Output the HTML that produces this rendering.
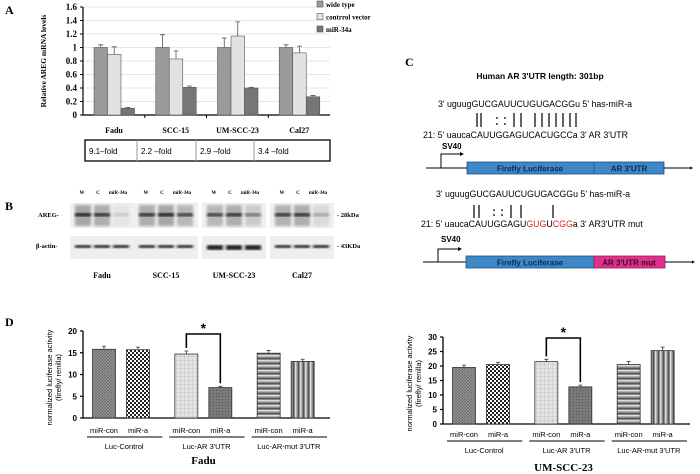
<!DOCTYPE html>
<html><head><meta charset="utf-8">
<style>
html,body{margin:0;padding:0;background:#fff;}
body{width:700px;height:474px;overflow:hidden;position:relative;font-family:"Liberation Sans",sans-serif;}
svg{position:absolute;left:0;top:0;}
.serif{font-family:"Liberation Serif",serif;font-weight:bold;}
.sans{font-family:"Liberation Sans",sans-serif;}
</style></head>
<body>
<svg id="fig" width="700" height="474" viewBox="0 0 700 474" xmlns="http://www.w3.org/2000/svg">
<defs>
<pattern id="pCross" width="3" height="3" patternUnits="userSpaceOnUse"><rect width="3" height="3" fill="#9a9a9a"/><path d="M0 0L3 3M3 0L0 3" stroke="#666" stroke-width="0.6"/></pattern>
<pattern id="pCheck" width="4" height="4" patternUnits="userSpaceOnUse"><rect width="4" height="4" fill="#fff"/><rect width="2" height="2" fill="#222"/><rect x="2" y="2" width="2" height="2" fill="#222"/></pattern>
<pattern id="pGrid" width="4" height="4" patternUnits="userSpaceOnUse"><rect width="4" height="4" fill="#e4e4e4"/><path d="M0 0H4M0 0V4" stroke="#bbb" stroke-width="0.8"/></pattern>
<pattern id="pDark" width="3" height="3" patternUnits="userSpaceOnUse"><rect width="3" height="3" fill="#7a7a7a"/><rect width="1" height="1" fill="#555"/></pattern>
<pattern id="pH" width="6" height="5" patternUnits="userSpaceOnUse"><rect width="6" height="5" fill="#888"/><rect y="0" width="6" height="1.5" fill="#ddd"/><rect y="3" width="6" height="1" fill="#555"/></pattern>
<pattern id="pV" width="5" height="6" patternUnits="userSpaceOnUse"><rect width="5" height="6" fill="#888"/><rect x="0" width="1.5" height="6" fill="#ddd"/><rect x="3" width="1" height="6" fill="#555"/></pattern>
<filter id="blur"><feGaussianBlur stdDeviation="1.2"/></filter>
</defs>
<g id="panelA"></g>
<g id="panelB"></g>
<g id="panelC">
<text x="405" y="66" class="serif" font-size="12">C</text>
<text x="540" y="79" text-anchor="middle" font-size="8.5" font-weight="bold">Human AR 3'UTR length: 301bp</text>
<text x="438" y="107" font-size="8.8">3' uguugGUCGAUUCUGUGACGGu 5' has-miR-a</text>
<g stroke="#000" stroke-width="1.2">
<path d="M477 113V127M481 113V127M497 117V119M497 123V125M505 117V119M505 123V125M514 113V127M521 113V127M535 113V127M542 113V127M549 113V127M556 113V127M563 113V127M570 113V127M576 113V127"/>
</g>
<text x="423" y="138" font-size="8.8">21:  5' uaucaCAUUGGAGUCACUGCCa 3' AR 3'UTR</text>
<text x="442" y="149" font-size="8" font-weight="bold">SV40</text>
<g>
<path d="M426 168H467M441 168V154H462" stroke="#000" stroke-width="1" fill="none"/>
<path d="M460 152L464 154L460 156Z" fill="#000"/>
<rect x="467" y="162" width="197" height="12" fill="#3f88c8" stroke="#1d4f80" stroke-width="0.8"/>
<line x1="594" y1="162" x2="594" y2="174" stroke="#1d4f80" stroke-width="0.8"/>
<text x="530" y="171.5" text-anchor="middle" font-size="8" font-weight="bold" fill="#102a50">Firefly Luciferase</text>
<text x="629" y="171.5" text-anchor="middle" font-size="8" font-weight="bold" fill="#102a50">AR 3'UTR</text>
<path d="M664 168H691" stroke="#000" stroke-width="1"/><path d="M690 166.5L693 168L690 169.5Z" fill="#000"/>
</g>
<text x="436" y="197" font-size="8.8">3' uguugGUCGAUUCUGUGACGGu 5' has-miR-a</text>
<g stroke="#000" stroke-width="1.2">
<path d="M474 205V218M479 205V218M494 209V211M494 214V216M502 209V211M502 214V216M511 205V218M521 205V218M553 205V218"/>
</g>
<text x="421" y="227" font-size="8.8">21:  5' uaucaCAUUGGAGU<tspan fill="#e02020">GUG</tspan>U<tspan fill="#e02020">CGG</tspan>a 3' AR3'UTR mut</text>
<text x="441" y="242" font-size="8" font-weight="bold">SV40</text>
<g>
<path d="M423 262H466M438 262V249H460" stroke="#000" stroke-width="1" fill="none"/>
<path d="M458 247L462 249L458 251Z" fill="#000"/>
<rect x="466" y="256" width="128" height="12" fill="#3f88c8" stroke="#1d4f80" stroke-width="0.8"/>
<rect x="594" y="256" width="71" height="12" fill="#e0308a" stroke="#a01860" stroke-width="0.8"/>
<text x="530" y="265.5" text-anchor="middle" font-size="8" font-weight="bold" fill="#102a50">Firefly Luciferase</text>
<text x="629" y="265.5" text-anchor="middle" font-size="8" font-weight="bold" fill="#3a0a20">AR 3'UTR mut</text>
<path d="M665 262H693" stroke="#000" stroke-width="1"/><path d="M692 260.5L695 262L692 263.5Z" fill="#000"/>
</g>
</g>
<g id="panelD1"></g>
<g id="panelD2"></g>
</svg>
<script>
// ---- Panel A data ----
const aCategories = ["Fadu","SCC-15","UM-SCC-23","Cal27"];
const aSeries = ["wide type","contrrol vector","miR-34a"];
const aWild = [1.0,1.0,1.0,1.0];
const aWildErr = [0.04,0.19,0.14,0.04];
const aCtrl = [0.9,0.83,1.17,0.92];
const aCtrlErr = [0.11,0.12,0.21,0.10];
const aMir = [0.1,0.41,0.40,0.27];
const aMirErr = [0.01,0.02,0.01,0.02];
const aTicks = [0,0.2,0.4,0.6,0.8,1,1.2,1.4,1.6];
const aFold = ["9.1–fold","2.2 –fold","2.9 –fold","3.4 –fold"];
// ---- Panel D data ----
const dLabels = ["miR-con","miR-a","miR-con","miR-a","miR-con","miR-a"];
const dGroups = ["Luc-Control","Luc-AR 3'UTR","Luc-AR-mut 3'UTR"];
const d1Values = [15.8,15.7,14.7,7.0,14.9,13.0];
const d1Err = [0.7,0.6,0.7,0.3,0.6,0.5];
const d1Ticks = [0,5,10,15,20];
const d2Values = [19.5,20.5,21.5,12.8,20.5,25.3];
const d2Err = [0.8,0.8,0.8,0.6,1.1,1.2];
const d2Ticks = [0,5,10,15,20,25,30];

const NS="http://www.w3.org/2000/svg";
function mk(parent,tag,attrs,text){const e=document.createElementNS(NS,tag);for(const k in attrs)e.setAttribute(k,attrs[k]);if(text!==undefined)e.textContent=text;parent.appendChild(e);return e;}

// ===== Panel A =====
(function(){
const g=document.getElementById('panelA');
const x0=83,x1=330,yb=115,yt=7,vmax=1.6;
const y=v=>yb-(v/vmax)*(yb-yt);
const band=(x1-x0)/aCategories.length;
const bw=13.5;
let t=mk(g,'text',{x:5,y:14,class:'serif','font-size':12},'A');


aTicks.forEach(v=>{
 if(v>0){const l=mk(g,'line',{x1:x0,x2:x1,y1:y(v),y2:y(v),stroke:'#ddd','stroke-width':0.7});
 
 }
 const tk=mk(g,'line',{x1:x0-3,x2:x0,y1:y(v),y2:y(v),stroke:'#000','stroke-width':1});
 
 
 const tl=mk(g,'text',{x:x0-6,y:y(v)+3,'text-anchor':'end',class:'serif','font-size':9},String(v));
 
 
});
const ax=mk(g,'path',{d:`M${x0} ${yt}V${yb}H${x1}`,stroke:'#000','stroke-width':1.2,fill:'none'});


const yl=mk(g,'text',{transform:`translate(46,${(yb+yt)/2}) rotate(-90)`,'text-anchor':'middle',class:'serif','font-size':7.5},'Relative AREG mRNA levels');


const fills=['#9b9b9b','#e2e2e2','#767676'];
const vals=[aWild,aCtrl,aMir],errs=[aWildErr,aCtrlErr,aMirErr];
aCategories.forEach((c,i)=>{
 const gs=x0+i*band+11;
 for(let s=0;s<3;s++){
  const v=vals[s][i],e=errs[s][i],bx=gs+s*bw;
  const r=mk(g,'rect',{x:bx,y:y(v),width:bw,height:yb-y(v),fill:fills[s],stroke:'#555','stroke-width':0.6});
  
  
  const cx=bx+bw/2;
  const eb=mk(g,'path',{d:`M${cx} ${y(v)}V${y(v+e)}M${cx-2.5} ${y(v+e)}H${cx+2.5}`,stroke:'#555','stroke-width':0.8});
  
  
 }
 if(i>0){const tk=mk(g,'line',{x1:x0+i*band,x2:x0+i*band,y1:yb,y2:yb+3,stroke:'#000'});
 
 }
 const lb=mk(g,'text',{x:gs+20,y:133,'text-anchor':'middle',class:'serif','font-size':8},c);
 
 
});
const tl=mk(g,'rect',{x:x0+2,y:140,width:245,height:21,fill:'none',stroke:'#000','stroke-width':1.3});


const cw=[0,52,111,169,227];
aFold.forEach((f,i)=>{
 if(i>0){const d=mk(g,'line',{x1:x0+2+cw[i],x2:x0+2+cw[i],y1:140,y2:161,stroke:'#999'});
 
 }
 const ft=mk(g,'text',{x:x0+6+cw[i],y:154,'font-size':8,class:'sans'},f);
 
 
});
aSeries.forEach((s,i)=>{
 const r=mk(g,'rect',{x:317,y:1+i*12.5,width:6,height:6,fill:fills[i],stroke:'#555','stroke-width':0.6});
 
 
 const lt=mk(g,'text',{x:326,y:7+i*12.5,class:'serif','font-size':7},s);
 
 
});
})();

// ===== Panel B =====
(function(){
const g=document.getElementById('panelB');
const cells=["Fadu","SCC-15","UM-SCC-23","Cal27"];
const boxX=[70,134,202,270];
const areg=[[1,0.9,0.15],[0.9,1,0.8],[0.8,0.9,0.5],[0.85,0.9,0.3]];
let t=mk(g,'text',{x:5,y:210,class:'serif','font-size':12},'B');


let l1=mk(g,'text',{x:38,y:217,class:'serif','font-size':6.5},'AREG-');


let l2=mk(g,'text',{x:36,y:248,class:'serif','font-size':6.5},'β-actin-');


let k1=mk(g,'text',{x:337,y:217,class:'serif','font-size':6.5},'- 28kDa');


let k2=mk(g,'text',{x:337,y:248,class:'serif','font-size':6.5},'- 43KDa');


cells.forEach((c,i)=>{
 const bx=boxX[i];
 ['W','C','miR-34a'].forEach((ln,j)=>{
  const lt=mk(g,'text',{x:bx+12+j*16+(j==2?4:0),y:194,'text-anchor':'middle',class:'serif','font-size':5},ln);
  
  
 });
 const b1=mk(g,'rect',{x:bx,y:203,width:64,height:25,fill:'#f0f0f0'});
 
 
 const b2=mk(g,'rect',{x:bx,y:236,width:64,height:23,fill:'#eeeeee'});
 
 
 for(let j=0;j<3;j++){
  const lx=bx+5+j*19,a=areg[i][j];
  const s=mk(g,'rect',{x:lx,y:205,width:16,height:21,fill:'#777','fill-opacity':a*0.6,filter:'url(#blur)'});
  
  
  const bd=mk(g,'rect',{x:lx,y:213,width:16,height:3.5,fill:'#222','fill-opacity':a,filter:'url(#blur)'});
  
  
  const ab=mk(g,'rect',{x:lx,y:245,width:16,height:i==2?5:3,fill:'#1a1a1a',filter:'url(#blur)'});
  
  
 }
 const cl=mk(g,'text',{x:bx+32,y:278,'text-anchor':'middle',class:'serif','font-size':8},c);
 
 
});
})();

// ===== Panel D =====
const patterns=['url(#pCross)','url(#pCheck)','url(#pGrid)','url(#pDark)','url(#pH)','url(#pV)'];
function drawD(gid,ox,x0,x1,yb,yt,vals,errs,ticks,title,titleY,subY,bracketY,sig){
 const g=document.getElementById(gid);
 const vmax=ticks[ticks.length-1];
 const y=v=>yb-(v/vmax)*(yb-yt);
 const gw=(x1-x0)/3,bw=23;
 const cxOf=i=>x0+Math.floor(i/2)*gw+(i%2?55:21);
 ticks.forEach(v=>{
  const tk=mk(g,'line',{x1:x0-3,x2:x0,y1:y(v),y2:y(v),stroke:'#000','stroke-width':1.2});
  
  
  const tl=mk(g,'text',{x:x0-6,y:y(v)+3,'text-anchor':'end','font-size':8,'font-weight':'bold'},String(v));
  
  
 });
 const ax=mk(g,'path',{d:`M${x0} ${yt}V${yb}H${x1}`,stroke:'#000','stroke-width':1.3,fill:'none'});
 
 
 const ylt=mk(g,'text',{transform:`translate(${x0-31},${(yb+yt)/2+3}) rotate(-90)`,'text-anchor':'middle','font-size':7.5},'normalized luciferase activity');
 
 
 const ylt2=mk(g,'text',{transform:`translate(${x0-22},${(yb+yt)/2+3}) rotate(-90)`,'text-anchor':'middle','font-size':7.5},'(firefly/ renilla)');
 
 
 vals.forEach((v,i)=>{
  const cx=cxOf(i);
  const r=mk(g,'rect',{x:cx-bw/2,y:y(v),width:bw,height:yb-y(v),fill:patterns[i],stroke:'#333','stroke-width':0.8});
  
  
  const e=errs[i];
  const eb=mk(g,'path',{d:`M${cx} ${y(v)}V${y(v+e)}M${cx-2} ${y(v+e)}H${cx+2}`,stroke:'#333','stroke-width':0.8});
  
  
  const sl=mk(g,'text',{x:cx,y:subY,'text-anchor':'middle','font-size':7.5},dLabels[i]);
  
  
 });
 dGroups.forEach((gname,k)=>{
  const gx=x0+k*gw;
  const ul=mk(g,'line',{x1:gx+4,x2:gx+gw-3,y1:subY+4,y2:subY+4,stroke:'#000','stroke-width':1});
  
  
  const gl=mk(g,'text',{x:gx+gw/2,y:subY+16,'text-anchor':'middle','font-size':7.5},gname);
  
  
 });
 const a=cxOf(2),b=cxOf(3);
 const br=mk(g,'path',{d:`M${a} ${y(vals[2]+errs[2])-3}V${bracketY}H${b}V${y(vals[3]+errs[3])-3}`,stroke:'#000','stroke-width':1.6,fill:'none'});
 
 
 const st=mk(g,'text',{x:(a+b)/2,y:bracketY-1,'text-anchor':'middle','font-size':14,'font-weight':'bold'},'*');
 
 
 const tt=mk(g,'text',{x:(x0+x1)/2-3,y:titleY,'text-anchor':'middle',class:'serif','font-size':11},title);
 
 
}
let dl=mk(document.getElementById('panelD1'),'text',{x:5,y:326,class:'serif','font-size':12},'D');


drawD('panelD1',0,83,330,418,331,d1Values,d1Err,d1Ticks,'Fadu',464,433,334,true);
drawD('panelD2',360,443,690,424,337,d2Values,d2Err,d2Ticks,'UM-SCC-23',471,437,338,true);
</script>
</body></html>
